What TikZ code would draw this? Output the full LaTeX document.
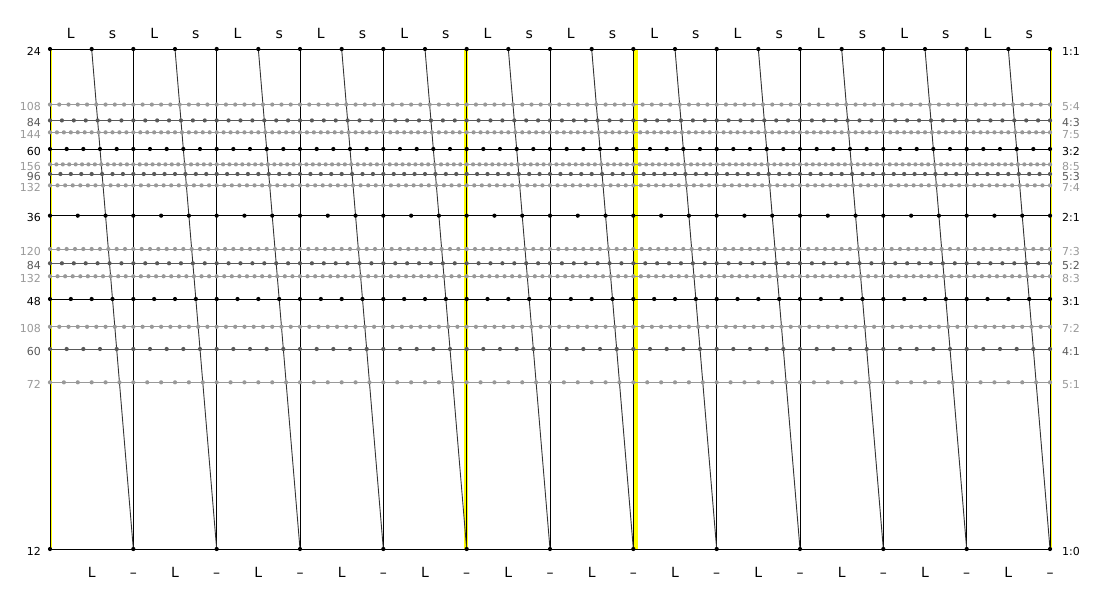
\documentclass[tikz,border=0pt]{standalone}
\usepackage{fontspec}
\setmainfont{DejaVu Sans}
\usetikzlibrary{positioning}

\definecolor{tierzero}{gray}{0}
\definecolor{tierone}{gray}{0.35}
\definecolor{tiertwo}{gray}{0.6}
\definecolor{slantcol}{gray}{0.2}
\definecolor{markyellow}{rgb}{1,1,0}

\begin{document}
\begin{tikzpicture}[x=1pt,y=-1pt,
    edolabel/.style={anchor=base east,inner sep=0pt,font=\fontsize{11}{11}\selectfont},
    ratiolabel/.style={anchor=base west,inner sep=0pt,font=\fontsize{11}{11}\selectfont},
    steplabel/.style={anchor=base,inner sep=0pt,font=\fontsize{14}{14}\selectfont}]

\useasboundingbox (0,0) rectangle (1100,600);

% Highlighted period boundaries (yellow)
\fill[markyellow] (50,49) rectangle (51.5,549);
\fill[markyellow] (464,49) rectangle (467.5,549);
\fill[markyellow] (633,49) rectangle (637.5,549);
\fill[markyellow] (1050,49) rectangle (1051.5,549);

% Period boundaries
\foreach \k in {0,...,12}
{
    \draw[tierzero, line width=1pt] ({50+1000*\k/12},49) -- ++(0,500);
}

% L/s boundary moving from 1:1 to 1:0
\foreach \k in {0,...,11}
{
    \draw[slantcol, line width=0.9pt] ({50+1000*\k/12+125/3},49) -- ({50+1000*(\k+1)/12},549);
}

% Step ratios: L / s / colour
\foreach \L/\s/\tier in {5/4/tiertwo, 7/5/tiertwo, 8/5/tiertwo, 7/4/tiertwo,
                         7/3/tiertwo, 8/3/tiertwo, 7/2/tiertwo, 5/1/tiertwo,
                         4/3/tierone, 5/3/tierone, 5/2/tierone, 4/1/tierone,
                         1/1/tierzero, 3/2/tierzero, 2/1/tierzero, 3/1/tierzero, 1/0/tierzero}
{
    \pgfmathsetmacro\yy{49+500*(\L-\s)/(\L+\s)}
    \pgfmathtruncatemacro\nn{12*(\L+\s)}
    \pgfmathsetmacro\dx{1000/\nn}
    \draw[\tier, line width=1pt] (50,\yy) -- (1050,\yy);
    \foreach \i in {0,...,\nn}
    {
        \fill[\tier] ({50+\i*\dx},\yy) circle[radius=2.1pt];
    }
    \node[edolabel, text=\tier] (edo-\L-\s) at (41,\yy+6) {\nn};
    \node[ratiolabel, text=\tier] (ratio-\L-\s) at (1062,\yy+6) {\L:\s};
}

% Step names at 1:1 (top) and 1:0 (bottom)
\foreach \k in {0,...,11}
{
    \node[steplabel] (topL-\k) at ({50+1000*\k/12+125/6},38) {L};
    \node[steplabel] (tops-\k) at ({50+1000*\k/12+125/2},38) {s};
    \node[steplabel] (botL-\k) at ({50+1000*\k/12+125/3},577) {L};
    \node[steplabel] (bots-\k) at ({50+1000*(\k+1)/12},577) {\textendash};
}

\end{tikzpicture}
\end{document}
